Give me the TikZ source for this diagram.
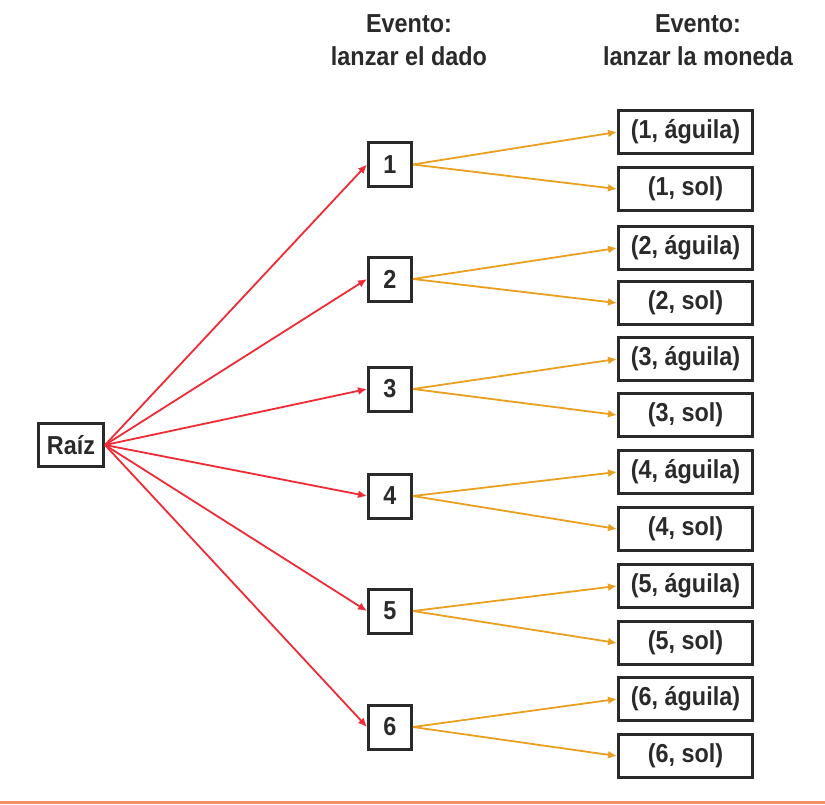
\documentclass[tikz,border=0pt]{standalone}
\usepackage{fontspec}
\usetikzlibrary{arrows.meta}
\setmainfont{Liberation Sans}[FakeStretch=0.9]
\begin{document}
\begin{tikzpicture}[x=1pt,y=-1pt,
  box/.style={draw=boxgray,line width=3pt,fill=white,inner sep=0pt,font=\fontsize{26}{30}\selectfont\bfseries,text=textgray},
  rootbox/.style={box,minimum width=65pt,minimum height=43pt},
  diebox/.style={box,minimum width=43pt,minimum height=44pt},
  outbox/.style={box,minimum width=134pt,minimum height=43pt},
  redarr/.style={draw=arrred,line width=1.8pt,-{Latex[length=9pt,width=8pt]}},
  orarr/.style={draw=arrorange,line width=1.8pt,-{Latex[length=9pt,width=8pt]}},
  head/.style={align=center,font=\fontsize{26}{33}\selectfont\bfseries,text=textgray,inner sep=0pt}]
\definecolor{boxgray}{HTML}{2A2A2A}
\definecolor{textgray}{HTML}{2A2A2A}
\definecolor{arrred}{HTML}{EE2B36}
\definecolor{arrorange}{HTML}{E9A021}
\definecolor{barsalmon}{HTML}{F2906B}
\useasboundingbox (0,0) rectangle (825,804);
\fill[white] (0,0) rectangle (825,804);
\fill[barsalmon] (0,800.5) rectangle (825,804);
\node[head] (h1) at (409,40) {Evento:\\lanzar el dado};
\node[head] (h2) at (698,40) {Evento:\\lanzar la moneda};
\node[rootbox] (r) at (71,445) {Raíz};
\foreach \i/\y/\ya/\ys in {1/164.5/132/189, 2/279/248/303, 3/389/359/415, 4/496/472/529, 5/611/586/643, 6/727/699/756}{
  \node[diebox] (d\i) at (390,\y) {\i};
  \node[outbox] (a\i) at (685.5,\ya) {(\i, águila)};
  \node[outbox] (s\i) at (685.5,\ys) {(\i, sol)};
  \draw[redarr] (r.east) -- (d\i.west);
  \draw[orarr] (d\i.east) -- (a\i.west);
  \draw[orarr] (d\i.east) -- (s\i.west);
}
\end{tikzpicture}
\end{document}
